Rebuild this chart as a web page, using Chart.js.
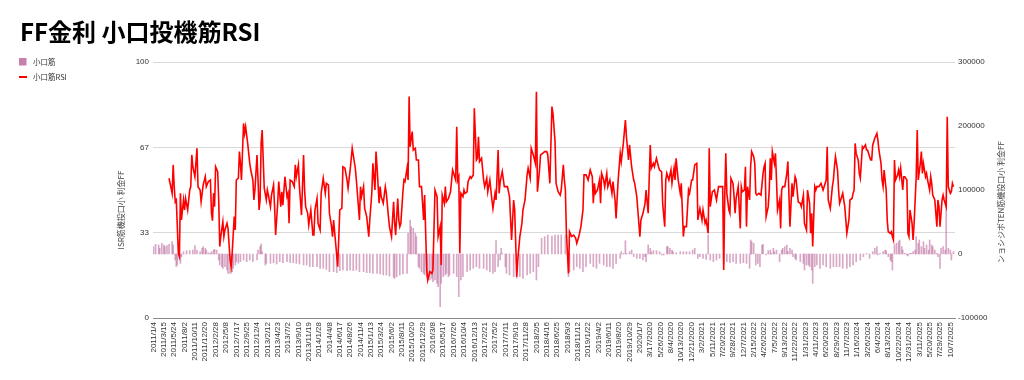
<!DOCTYPE html>
<html>
<head>
<meta charset="utf-8">
<script src="https://cdn.jsdelivr.net/npm/chart.js@4.4.1/dist/chart.umd.min.js"></script>
<style>
  html, body { margin: 0; padding: 0; background: #fff; }
  #wrap { position: relative; width: 1024px; height: 380px; }
</style>
</head>
<body>
<div id="wrap"><canvas id="c"></canvas></div>
<script>
// ---- data (week index = weeks since 2011/1/4) ----
const chartTitle = "FF金利 小口投機筋RSI";
const leftAxisTitle = "ISR筋機投口小 利金FF";
const rightAxisTitle = "ンョシジポTEN筋機投口小 利金FF";
const seriesBarLabel = "小口筋";
const seriesLineLabel = "小口筋RSI";
const weekCount = 775;

const tickLabels = ["2011/1/4","2011/3/15","2011/5/24","2011/8/2","2011/10/11","2011/12/20","2012/2/28","2012/5/8","2012/7/17","2012/9/25","2012/12/4","2013/2/12","2013/4/23","2013/7/2","2013/9/10","2013/11/19","2014/1/28","2014/4/8","2014/6/17","2014/8/26","2014/11/4","2015/1/13","2015/3/24","2015/6/2","2015/8/11","2015/10/20","2015/12/29","2016/3/8","2016/5/17","2016/7/26","2016/10/4","2016/12/13","2017/2/21","2017/5/2","2017/7/11","2017/9/19","2017/11/28","2018/2/5","2018/4/16","2018/6/25","2018/9/3","2018/11/12","2019/1/22","2019/4/2","2019/6/11","2019/8/20","2019/10/29","2020/1/7","3/17/2020","5/26/2020","8/4/2020","10/13/2020","12/21/2020","3/2/2021","5/11/2021","7/20/2021","9/28/2021","12/7/2021","2/15/2022","4/26/2022","7/5/2022","9/13/2022","11/22/2022","1/31/2023","4/11/2023","6/20/2023","8/29/2023","11/7/2023","1/16/2024","3/26/2024","6/4/2024","8/13/2024","10/22/2024","12/31/2024","3/11/2025","5/20/2025","7/29/2025","10/7/2025"];
const tickEvery = 10;

const rsiWeek = [15,18,19,20,21,22,24,25,26,27,29,30,31,33,35,36,37,38,40,42,43,45,46,48,50,51,53,55,56,57,58,59,60,62,63,64,65,67,68,69,71,72,74,75,76,78,79,80,82,83,84,85,87,88,89,91,93,94,96,97,98,100,101,102,103,104,105,107,109,110,111,113,114,116,117,118,120,121,123,124,125,127,129,130,131,132,134,136,137,138,140,141,143,145,146,147,149,150,152,154,155,156,158,159,161,162,164,166,167,169,170,172,173,174,176,178,179,180,182,183,185,187,188,190,192,193,195,196,198,199,200,201,203,204,206,208,209,211,212,214,215,216,218,219,220,222,224,225,227,228,230,232,233,234,236,237,238,239,241,242,243,245,246,247,248,250,251,253,254,256,257,259,261,262,264,265,267,269,270,272,274,275,277,278,279,281,282,283,285,287,289,290,292,293,294,295,296,297,299,300,301,303,304,306,307,309,310,312,313,314,315,317,319,320,322,323,325,327,328,330,331,333,334,335,337,339,341,342,344,346,348,349,351,352,354,356,357,359,361,362,364,365,367,369,370,371,373,374,376,378,380,381,383,385,386,388,389,391,393,394,396,397,398,399,401,402,404,406,408,409,411,413,415,416,418,420,422,424,425,426,427,429,431,432,433,435,436,438,439,441,443,444,446,447,449,451,452,454,456,457,459,460,462,464,465,467,468,470,471,473,475,476,478,480,481,483,484,486,488,489,491,492,494,495,496,498,500,501,503,504,505,507,509,510,512,513,515,517,518,520,521,523,525,526,528,530,531,533,534,536,537,538,540,542,544,546,547,550,551,552,553,554,556,557,558,560,561,562,563,565,567,568,569,571,572,573,574,576,577,578,580,581,582,583,585,587,589,590,591,592,594,595,596,597,598,600,601,602,603,605,606,607,608,610,612,613,615,617,618,620,621,623,625,626,628,629,631,632,634,635,636,637,639,640,641,643,645,647,648,650,651,652,654,656,657,658,659,661,662,663,665,666,668,669,670,672,673,675,676,677,678,679,681,682,683,685,686,688,689,690,692,693,694,695,697,699,700,701,703,704,705,706,708,709,710,712,713,714,715,716,717,719,720,721,722,724,725,726,728,729,730,731,733,734,735,737,738,739,741,742,743,744,746,747,748,750,751,752,753,755,757,758,759,760,762,763,764,766,767,768,770,771,772,773];
const rsiValue = [54.6,48.7,59.8,51.3,45.4,46.1,25.3,24.0,48.7,38.3,46.1,42.2,46.7,42.2,50.0,51.3,63.7,59.1,55.2,66.3,51.3,50.0,45.4,52.0,55.2,51.3,53.3,53.9,40.9,38.0,48.7,43.5,59.1,57.2,46.1,27.9,31.8,37.6,31.8,34.4,37.0,35.0,22.7,20.0,25.3,39.6,34.4,53.9,54.6,65.0,60.4,53.9,76.0,72.1,74.7,68.2,60.4,57.8,53.9,46.1,50.0,63.7,53.9,42.2,46.1,68.2,73.4,50.7,46.1,50.0,48.0,43.5,48.0,52.0,43.5,32.4,44.8,53.3,43.5,49.3,44.1,55.2,47.4,48.7,37.0,53.9,53.3,51.3,59.8,55.2,59.8,51.3,40.2,63.7,50.0,43.5,40.9,36.3,42.2,32.4,32.4,42.2,46.7,37.0,34.4,48.7,54.6,48.7,52.6,52.0,40.9,35.7,31.8,38.3,29.2,20.0,31.1,42.2,42.8,59.1,58.5,53.9,50.7,57.8,66.3,63.7,58.5,53.9,43.5,38.3,51.3,47.4,51.3,42.8,39.6,31.8,38.3,49.3,60.4,50.0,65.0,59.1,44.8,51.3,47.4,44.8,51.3,48.7,39.6,35.7,31.8,45.4,37.0,32.4,46.7,38.3,35.7,37.0,49.3,53.9,53.3,58.5,53.9,86.5,66.9,72.8,65.6,66.3,61.7,61.7,51.3,51.3,38.3,48.0,18.8,14.8,18.1,17.4,18.8,50.0,47.4,31.8,35.7,20.7,48.0,44.8,51.3,45.4,46.7,49.3,57.8,56.5,53.9,74.7,53.9,55.2,25.3,48.7,47.4,50.0,48.7,49.3,53.3,55.2,54.6,55.9,81.9,61.7,62.4,70.8,61.1,62.4,53.9,51.3,54.6,49.3,53.9,46.1,42.8,48.7,46.1,65.6,48.7,53.3,57.2,51.3,51.3,51.3,47.4,30.5,46.1,42.2,16.1,22.7,31.8,37.0,42.2,46.1,55.9,58.5,54.6,66.3,63.7,60.4,88.4,49.3,57.8,63.7,64.3,65.0,65.0,63.7,52.6,82.6,79.9,68.9,52.6,49.3,48.0,50.0,59.8,53.9,50.0,33.1,17.4,33.7,31.8,32.4,31.1,29.2,31.8,35.7,42.2,55.9,55.9,53.9,57.8,55.2,44.8,52.6,48.7,50.0,53.9,44.8,56.5,53.9,51.3,56.5,51.3,53.9,48.7,53.3,46.1,38.9,53.9,64.3,61.1,68.2,77.3,70.8,61.7,67.6,59.1,53.9,52.6,47.4,42.2,31.8,38.3,40.9,44.8,50.0,40.9,67.6,58.5,60.4,59.1,62.4,59.1,57.8,57.2,44.8,35.7,53.9,56.5,53.9,57.8,52.6,58.5,53.9,62.4,53.9,48.7,52.6,31.8,35.7,35.7,50.0,48.7,53.9,53.9,59.8,60.4,38.3,42.8,38.3,42.2,37.0,38.3,33.1,66.3,43.5,49.3,50.0,46.1,51.3,51.3,51.3,18.8,47.4,64.3,48.7,42.2,40.9,54.6,52.6,47.4,40.9,46.7,51.3,35.0,51.3,49.3,50.0,59.1,35.7,51.3,46.1,59.1,65.0,63.0,60.4,48.7,48.0,48.7,48.0,56.5,59.1,60.4,39.6,43.5,50.0,62.4,53.9,65.0,60.4,64.3,53.9,42.2,46.1,35.0,50.0,51.3,51.3,56.5,61.1,35.7,52.6,47.4,55.2,53.9,45.4,44.8,43.5,48.0,37.0,34.4,50.0,44.8,33.1,40.9,27.9,51.3,50.0,51.3,51.3,52.6,50.0,51.3,53.9,66.9,46.1,42.8,51.3,53.9,59.1,63.0,57.8,50.0,44.8,47.4,48.7,43.5,38.3,33.1,38.3,46.1,46.7,48.7,50.0,68.2,64.3,61.7,56.5,54.6,66.9,66.3,67.6,65.6,65.6,63.0,61.7,61.7,67.6,70.2,72.1,69.5,65.6,60.4,53.9,51.3,57.8,50.0,38.3,33.7,33.1,33.7,31.8,30.5,61.7,53.9,55.9,57.8,55.2,58.5,50.0,55.2,55.2,53.9,33.1,31.8,42.2,37.0,30.5,37.0,55.2,73.4,53.9,60.4,65.0,56.5,60.4,55.2,56.5,53.9,50.0,55.2,52.6,48.0,46.1,35.7,46.1,43.5,35.7,46.1,48.0,46.1,43.5,78.6,51.3,48.7,49.3,52.6,51.3];

const netWeek = [0,2,5,6,8,10,11,13,15,18,19,21,22,23,25,26,27,29,32,35,38,40,42,45,47,48,50,51,53,55,56,58,59,61,63,64,66,67,69,71,72,74,76,77,79,80,82,84,87,90,93,96,100,101,103,104,105,108,109,113,116,119,122,125,129,132,135,138,141,145,148,151,154,158,161,164,167,170,174,177,180,183,187,190,193,196,199,203,206,209,212,216,219,222,225,228,232,233,235,238,241,245,246,248,249,251,253,254,256,257,259,261,262,264,265,267,269,270,272,274,275,277,278,280,282,283,285,286,290,293,295,297,299,303,306,309,312,315,319,322,325,328,330,331,333,335,336,337,340,341,344,348,351,354,357,361,364,367,370,372,375,378,381,385,388,391,394,398,401,402,406,409,412,415,418,422,425,428,431,435,438,441,444,447,451,452,454,456,457,460,462,464,467,470,473,475,476,478,480,481,483,486,489,491,493,496,497,499,501,502,505,509,512,515,518,521,523,526,528,531,534,536,538,541,544,547,551,554,557,560,563,567,570,573,576,577,578,580,582,584,586,588,589,592,594,596,597,599,600,602,605,607,608,610,612,613,615,617,618,620,621,625,628,629,631,633,634,636,637,639,641,644,647,650,654,657,660,663,666,670,673,676,679,683,686,689,692,695,697,699,700,702,705,707,708,710,712,713,714,716,718,720,721,723,724,726,728,729,731,732,734,736,737,739,740,742,744,745,747,749,750,752,753,755,757,758,760,761,763,765,766,768,770,771,773];
const netValue = [11500,15100,14100,8900,16700,14100,11500,13000,15100,19300,14100,-9400,-19800,-17200,-6800,-14600,-4200,3600,5200,5200,6200,13000,6200,3600,8900,11500,8900,6200,2100,1000,3600,6200,7300,6200,-9400,-17200,-19800,-22400,-19800,-25000,-30200,-30200,-27600,-22400,-17200,-12000,-14600,-12000,-9400,-12000,-9400,-12000,-9400,6200,11500,15600,3600,-17200,-14600,-14600,-13500,-15600,-12000,-13500,-12000,-13500,-13500,-14600,-15600,-17200,-17200,-19800,-19800,-19800,-22400,-22400,-24000,-27600,-27600,-29200,-26000,-25000,-26000,-25000,-26000,-25000,-27600,-27600,-29200,-29200,-30200,-30200,-31200,-32800,-32800,-34400,-36500,-38000,-35400,-32800,-31200,-30200,32300,53100,42700,40100,32300,27100,-19800,-22400,-27600,-30200,-32800,-35400,-40600,-40600,-38000,-43200,-40600,-45800,-51000,-82300,-45800,-35400,-32800,-30200,-35400,-32800,-30200,-35400,-66700,-40600,-35400,-27600,-25000,-22400,-19800,-22400,-22400,-25000,-27600,-30200,-27600,20800,-19800,-9400,8900,1000,-19800,-30200,-32800,-35400,-38000,-35400,-38000,-32800,-30200,-27600,-40600,-19800,24500,27100,29700,28100,29700,29700,29700,29700,-35400,-27600,-25000,-19800,-22400,-27600,-19800,-14600,-19800,-22400,-14600,-17200,-19800,-19800,-22400,-14600,-6800,3600,1000,20800,1000,3600,6200,-4200,-6800,-6800,-9400,-4200,-12000,14100,8900,3600,5200,5200,3600,-1600,-1600,11500,11500,8900,6200,3600,2100,3600,3600,3600,3600,6200,8900,-6800,-4200,-6800,-8300,29700,-9400,-12000,-9400,-6800,-14600,-12000,-13500,-12000,-14600,-14600,-13500,-14600,-22400,21900,19300,16700,-17200,-14600,-19800,14100,15100,-1600,5200,6200,1000,8900,3600,6200,-12000,6200,8900,11500,14100,3600,8900,6200,-4200,-6800,-9400,-12000,-14600,-25000,-17200,-17200,-19800,-25000,-45800,-19800,-17200,-22400,-17200,-19800,-22400,-19800,-19800,-19800,-22400,-22400,-19800,-17200,-12000,-9400,-4200,1000,-6800,3600,8900,11500,-1600,1000,3600,6200,5200,-4200,-9400,-12000,-25000,14100,16700,19300,21900,11500,6200,1000,-1600,-3100,1000,1000,3600,6200,27100,16700,21900,11500,19300,8900,14100,6200,21900,14100,11500,6200,1000,-4200,-22400,8900,11500,6200,89600,8900,6200,-9400,3600];

const rsiTicks = [0, 100/3, 200/3, 100];

// ---- chart ----
const decor = {
  id: 'decor',
  afterDraw(chart) {
    const ctx = chart.ctx;
    const ds = chart.data.datasets;
    ctx.save();
    // title
    ctx.fillStyle = '#000';
    ctx.font = 'bold 24px "Noto Sans CJK JP", "Noto Sans", sans-serif';
    ctx.textBaseline = 'alphabetic';
    ctx.textAlign = 'left';
    ctx.fillText(chartTitle, 20, 41);
    // legend
    ctx.font = '7.5px "Noto Sans CJK JP", sans-serif';
    ctx.textBaseline = 'middle';
    ctx.fillStyle = ds[0].legendColor;
    ctx.fillRect(19, 58, 7.5, 7.5);
    ctx.fillStyle = '#333';
    ctx.fillText(ds[0].label, 33, 62);
    ctx.strokeStyle = ds[1].borderColor;
    ctx.lineWidth = 2;
    ctx.beginPath(); ctx.moveTo(19, 77); ctx.lineTo(27, 77); ctx.stroke();
    ctx.fillStyle = '#333';
    ctx.fillText(ds[1].label, 33, 77);
    // axis titles
    ctx.font = '8px "Noto Sans CJK JP", sans-serif';
    ctx.fillStyle = '#444';
    ctx.textAlign = 'center';
    ctx.save();
    ctx.translate(121, 210); ctx.rotate(-Math.PI / 2);
    ctx.fillText(leftAxisTitle, 0, 0);
    ctx.restore();
    ctx.save();
    ctx.translate(1001, 202); ctx.rotate(-Math.PI / 2);
    ctx.fillText(rightAxisTitle, 0, 0);
    ctx.restore();
    ctx.restore();
  }
};

const tickFont = { family: '"Liberation Sans", Arial, sans-serif', size: 8 };

new Chart(document.getElementById('c'), {
  type: 'bar',
  data: {
    datasets: [
      {
        type: 'bar',
        label: seriesBarLabel,
        data: netWeek.map((w, i) => ({ x: w, y: netValue[i] })),
        yAxisID: 'y1',
        backgroundColor: 'rgba(190,110,160,0.6)',
        legendColor: '#c97fab',
        barThickness: 1,
        order: 2
      },
      {
        type: 'line',
        label: seriesLineLabel,
        data: rsiWeek.map((w, i) => ({ x: w, y: rsiValue[i] })),
        yAxisID: 'y',
        borderColor: '#ff0000',
        borderWidth: 1.6,
        pointRadius: 0,
        tension: 0,
        fill: false,
        order: 1
      }
    ]
  },
  options: {
    responsive: true,
    maintainAspectRatio: false,
    animation: false,
    events: [],
    layout: { padding: { top: 62, left: 0, right: 0, bottom: 0 } },
    plugins: { legend: { display: false }, title: { display: false }, tooltip: { enabled: false } },
    scales: {
      x: {
        type: 'linear',
        min: -0.5,
        max: weekCount - 0.5,
        offset: false,
        grid: { display: false, drawTicks: false },
        border: { display: true, color: '#8a8a8a', width: 1 },
        afterBuildTicks: (s) => { s.ticks = tickLabels.map((_, i) => ({ value: i * tickEvery })); },
        afterFit: (s) => { s.height = 62; },
        ticks: {
          autoSkip: false,
          maxRotation: 90,
          minRotation: 90,
          padding: 4,
          color: '#333',
          font: tickFont,
          callback: (v) => tickLabels[Math.round(v / tickEvery)]
        }
      },
      y: {
        position: 'left',
        min: 0,
        max: 100,
        afterBuildTicks: (s) => { s.ticks = rsiTicks.map(v => ({ value: v })); },
        afterFit: (s) => { s.width = 153; },
        grid: { color: '#d9d9d9', lineWidth: 1, drawTicks: false },
        border: { display: false },
        ticks: { padding: 4, color: '#333', font: tickFont, callback: (v) => Math.round(v) }
      },
      y1: {
        position: 'right',
        min: -100000,
        max: 300000,
        afterFit: (s) => { s.width = 69; },
        grid: { display: false, drawTicks: false },
        border: { display: false },
        ticks: { stepSize: 100000, padding: 3, color: '#333', font: tickFont, callback: (v) => String(v) }
      }
    }
  },
  plugins: [decor]
});
</script>
</body>
</html>
